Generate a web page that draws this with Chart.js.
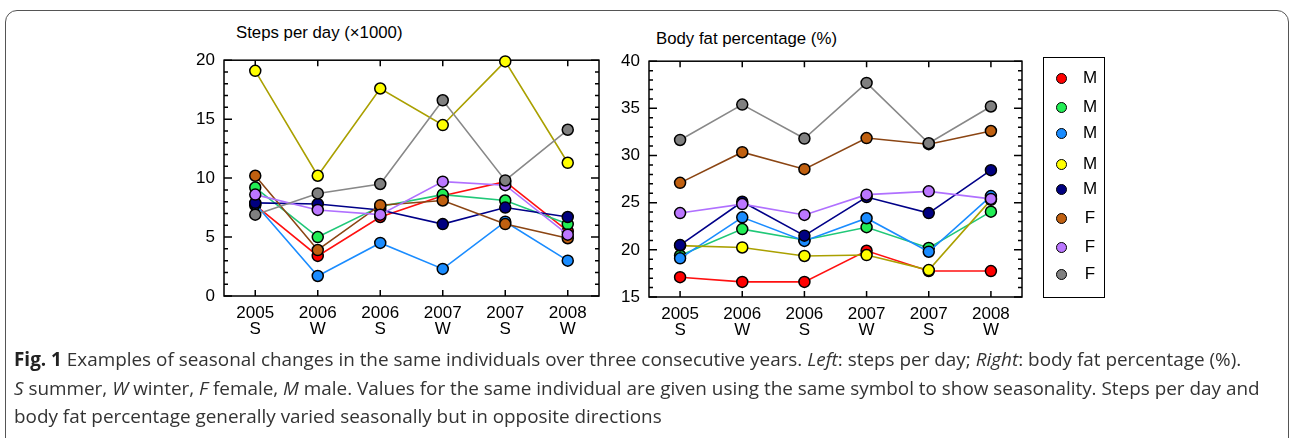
<!DOCTYPE html>
<html>
<head>
<meta charset="utf-8">
<script src="https://cdn.jsdelivr.net/npm/chart.js@4.4.0/dist/chart.umd.min.js"></script>
<style>
  body { margin: 0; background: #fff; width: 1293px; height: 438px; position: relative; overflow: hidden; font-family: "Liberation Sans", Arial, sans-serif; }
  #frame { position: absolute; left: 5px; top: 10px; width: 1284px; height: 440px; border: 1px solid #555; border-radius: 12px; box-sizing: border-box; }
  canvas { position: absolute; }
  .title { position: absolute; font-size: 16.8px; color: #000; white-space: nowrap; }
  #legend { position: absolute; left: 1043px; top: 57px; width: 62px; height: 241px; border: 1.5px solid #000; box-sizing: border-box; }
  .item { position: absolute; left: 0; width: 60px; height: 20px; }
  .dot { position: absolute; left: 12px; top: 4px; width: 9px; height: 9px; border: 1.5px solid #000; border-radius: 50%; }
  .lab { position: absolute; left: 35px; top: -1px; width: 22px; text-align: center; font-size: 17px; }
  #caption { position: absolute; left: 14px; top: 345px; width: 1275px; font-family: "Open Sans", sans-serif; font-size: 18.9px; line-height: 28.5px; color: #333; white-space: nowrap; }
  #caption b { color: #222; }
</style>
</head>
<body>
<div id="frame"></div>
<div class="title" style="left:236px; top:23px;">Steps per day (×1000)</div>
<div class="title" style="left:656px; top:29px;">Body fat percentage (%)</div>
<canvas id="steps" width="470" height="309" style="left:150px; top:41px;"></canvas>
<canvas id="fat" width="470" height="309" style="left:575px; top:42px;"></canvas>
<div id="legend"></div>
<div id="caption"><b>Fig. 1</b> Examples of seasonal changes in the same individuals over three consecutive years. <i>Left</i>: steps per day; <i>Right</i>: body fat percentage (%).<br><i>S</i> summer, <i>W</i> winter, <i>F</i> female, <i>M</i> male. Values for the same individual are given using the same symbol to show seasonality. Steps per day and<br>body fat percentage generally varied seasonally but in opposite directions</div>
<script>
// x categories: year + season
const categories = [["2005", "S"], ["2006", "W"], ["2006", "S"], ["2007", "W"], ["2007", "S"], ["2008", "W"]];
const sexes = ["M", "M", "M", "M", "M", "F", "F", "F"];

// steps per day (x1000), one array per individual
const stepsRed    = [7.7, 3.4, 6.7, 8.5, 9.7, 5.5];
const stepsGreen  = [9.2, 5.0, 7.6, 8.6, 8.1, 6.1];
const stepsBlue   = [7.8, 1.7, 4.5, 2.3, 6.3, 3.0];
const stepsYellow = [19.1, 10.2, 17.6, 14.5, 19.9, 11.3];
const stepsNavy   = [7.9, 7.8, 7.3, 6.1, 7.5, 6.7];
const stepsBrown  = [10.2, 3.9, 7.7, 8.1, 6.1, 4.9];
const stepsPurple = [8.6, 7.3, 6.9, 9.7, 9.4, 5.2];
const stepsGray   = [6.9, 8.7, 9.5, 16.6, 9.8, 14.1];

// body fat percentage
const fatRed    = [17.1, 16.6, 16.6, 19.9, 17.75, 17.75];
const fatGreen  = [19.4, 22.2, 21.05, 22.4, 20.2, 24.05];
const fatBlue   = [19.1, 23.45, 20.95, 23.35, 19.8, 25.7];
const fatYellow = [20.45, 20.25, 19.35, 19.45, 17.85, 25.3];
const fatNavy   = [20.5, 25.1, 21.5, 25.6, 23.9, 28.45];
const fatBrown  = [27.1, 30.35, 28.55, 31.85, 31.2, 32.6];
const fatPurple = [23.9, 24.85, 23.7, 25.85, 26.2, 25.4];
const fatGray   = [31.65, 35.4, 31.8, 37.7, 31.3, 35.2];

const stepsTicks = [0, 5, 10, 15, 20];
const fatTicks = [15, 20, 25, 30, 35, 40];

const pointColors = ["#ff0000", "#22ee55", "#1a8cff", "#ffff00", "#000080", "#c06010", "#bb77ff", "#808080"];
const lineColors  = ["#ff1010", "#20c878", "#1a8cff", "#aaa000", "#000088", "#8b4513", "#b070ff", "#888888"];

// frame with inward ticks, drawn under the points
const frameTicks = {
  id: "frameTicks",
  beforeDatasetsDraw(chart) {
    const { ctx, chartArea: a, scales: { x, y } } = chart;
    ctx.save();
    ctx.strokeStyle = "#000";
    ctx.lineWidth = 1.5;
    ctx.strokeRect(a.left, a.top, a.right - a.left, a.bottom - a.top);
    ctx.beginPath();
    for (let v = y.min; v <= y.max; v += 1) {
      const py = y.getPixelForValue(v);
      const len = v % 5 === 0 ? 8 : 4;
      ctx.moveTo(a.left, py); ctx.lineTo(a.left + len, py);
      ctx.moveTo(a.right, py); ctx.lineTo(a.right - len, py);
    }
    for (let i = 0; i < x.ticks.length; i++) {
      const px = x.getPixelForTick(i);
      ctx.moveTo(px, a.top); ctx.lineTo(px, a.top + 6);
      ctx.moveTo(px, a.bottom); ctx.lineTo(px, a.bottom - 6);
    }
    ctx.stroke();
    ctx.restore();
  }
};

function makeChart(id, series, ticks, padRight) {
  new Chart(document.getElementById(id), {
    type: "line",
    data: {
      labels: categories,
      datasets: series.map((d, i) => ({
        data: d,
        order: series.length - i, // later individuals drawn on top
        borderColor: lineColors[i],
        borderWidth: 1.6,
        pointBackgroundColor: pointColors[i],
        pointBorderColor: "#000",
        pointBorderWidth: 1.5,
        pointRadius: 5.5,
        tension: 0,
        clip: false
      }))
    },
    options: {
      responsive: false,
      animation: false,
      layout: { padding: { top: 0, right: padRight, left: 0, bottom: 0 } },
      plugins: { legend: { display: false }, tooltip: { enabled: false } },
      scales: {
        x: {
          offset: true,
          grid: { display: false, drawTicks: false },
          border: { display: false },
          ticks: { color: "#000", padding: 9, maxRotation: 0, font: { family: "Liberation Sans", size: 17, lineHeight: 0.95 } },
          afterFit(s) { s.height = 54; }
        },
        y: {
          min: ticks[0],
          max: ticks[ticks.length - 1],
          afterBuildTicks(s) { s.ticks = ticks.map(v => ({ value: v })); },
          grid: { display: false, drawTicks: false },
          border: { display: false },
          ticks: { color: "#000", padding: 9, font: { family: "Liberation Sans", size: 17 } },
          afterFit(s) { s.width = 74; }
        }
      }
    },
    plugins: [frameTicks]
  });
}

makeChart("steps", [stepsRed, stepsGreen, stepsBlue, stepsYellow, stepsNavy, stepsBrown, stepsPurple, stepsGray], stepsTicks, 21);
makeChart("fat", [fatRed, fatGreen, fatBlue, fatYellow, fatNavy, fatBrown, fatPurple, fatGray], fatTicks, 23);

// legend box
const legendTops = [11, 40, 66, 97, 122, 151, 180, 207];
const legend = document.getElementById("legend");
sexes.forEach((s, i) => {
  const it = document.createElement("div");
  it.className = "item";
  it.style.top = legendTops[i] + "px";
  it.innerHTML = '<div class="dot" style="background:' + pointColors[i] + '"></div><div class="lab">' + s + '</div>';
  legend.appendChild(it);
});
</script>
</body>
</html>
